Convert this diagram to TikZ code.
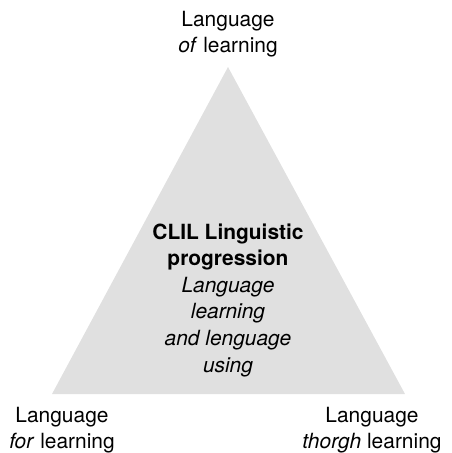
\documentclass[tikz,border=0pt]{standalone}
\usepackage{fontspec}
\setmainfont{TeX Gyre Heros}
\usetikzlibrary{positioning}
\definecolor{trigray}{HTML}{E0E0E0}

\begin{document}
\begin{tikzpicture}[x=1bp, y=-1bp,
  lbl/.style={align=center, inner sep=0pt, font=\fontsize{21}{26.7}\selectfont},
  corner/.style={lbl}]
\useasboundingbox (0,0) rectangle (452,453);
% triangle
\coordinate (apex) at (228,67);
\coordinate (bl) at (52,394);
\coordinate (br) at (405,394);
\fill[trigray] (apex) -- (bl) -- (br) -- cycle;
% centre text
\node[lbl] (core) at (228,300) {\textbf{CLIL Linguistic}\\ \textbf{progression}\\
  \textit{Language}\\ \textit{learning}\\ \textit{and lenguage}\\ \textit{using}};
% corner labels
\node[corner] (top) at (228,34) {Language\\ \textit{of} learning};
\node[corner] (left) at (62,430) {Language\\ \textit{for} learning};
\node[corner] (right) at (372,430) {Language\\ \textit{thorgh} learning};
\end{tikzpicture}
\end{document}
